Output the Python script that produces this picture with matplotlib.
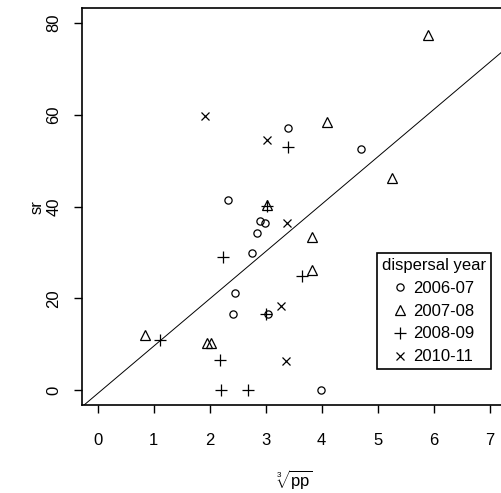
import numpy as np
import matplotlib
matplotlib.use("Agg")
import matplotlib.pyplot as plt

plt.rcParams['font.family'] = ['Liberation Sans', 'DejaVu Sans']
plt.rcParams['mathtext.fontset'] = 'custom'
plt.rcParams['mathtext.rm'] = 'Liberation Sans'
plt.rcParams['mathtext.it'] = 'Liberation Sans'

# cube root of pp vs sr, one series per dispersal year
pp_0607 = [3.39, 4.71, 2.32, 2.90, 2.99, 2.85, 2.75, 2.45, 2.41, 3.05, 3.98]
sr_0607 = [57.0, 52.5, 41.5, 36.8, 36.4, 34.3, 29.9, 21.1, 16.5, 16.5, 0.0]

pp_0708 = [5.90, 4.10, 5.26, 3.03, 3.83, 3.83, 0.85, 1.96, 2.02]
sr_0708 = [77.4, 58.4, 46.2, 40.3, 33.4, 26.2, 12.1, 10.3, 10.3]

pp_0809 = [3.40, 3.02, 2.23, 3.64, 3.00, 1.12, 2.18, 2.20, 2.68]
sr_0809 = [52.9, 40.1, 29.1, 24.9, 16.5, 10.9, 6.7, 0.0, 0.0]

pp_1011 = [1.92, 3.03, 3.38, 3.27, 3.37]
sr_1011 = [59.8, 54.5, 36.4, 18.3, 6.4]

years = ['2006-07', '2007-08', '2008-09', '2010-11']

# fitted line
intercept = -0.7
slope = 10.3

W, H = 501, 493
fig = plt.figure(figsize=(W / 100, H / 100), dpi=100)
ax = fig.add_axes([82 / W, (H - 405) / H, 423.4 / W, 397 / H])

mk = dict(linestyle='none', color='black', mfc='none', mew=0.9)
h1, = ax.plot(pp_0607, sr_0607, marker='o', ms=5.2, **mk)
h2, = ax.plot(pp_0708, sr_0708, marker='^', ms=7, **mk)
h3, = ax.plot(pp_0809, sr_0809, marker='+', ms=9, **mk)
h4, = ax.plot(pp_1011, sr_1011, marker='x', ms=6, **mk)

ax.axline((0, intercept), slope=slope, color='black', lw=0.7)

ax.set_xlim(-0.28, 7.28)
ax.set_ylim(-3.2, 83.2)
ax.set_xticks(range(0, 8))
ax.set_yticks(range(0, 81, 20))
ax.tick_params(direction='out', length=6, width=1, labelsize=12, color='black')
ax.tick_params(axis='x', pad=14)
ax.tick_params(axis='y', pad=9)
for lab in ax.get_yticklabels():
    lab.set_rotation(90)
    lab.set_va('center')
for sp in ax.spines.values():
    sp.set_linewidth(1.2)

fig.text(294 / W, 1 - 480 / H, r'$\sqrt[3]{pp}$', ha='center', va='center', fontsize=12)
fig.text(37 / W, 1 - 207 / H, 'sr', ha='center', va='center', rotation=90, fontsize=12)

leg = ax.legend([h1, h2, h3, h4], years, title='dispersal year',
                loc='upper left', bbox_to_anchor=(377 / W, 1 - 253 / H),
                bbox_transform=fig.transFigure, fontsize=12, title_fontsize=12,
                fancybox=False, framealpha=1, edgecolor='black',
                borderpad=0.3, labelspacing=0.47, handlelength=0.8,
                handletextpad=0.4, borderaxespad=0)
leg.get_frame().set_linewidth(1.2)

fig.savefig('out.png', dpi=100)
